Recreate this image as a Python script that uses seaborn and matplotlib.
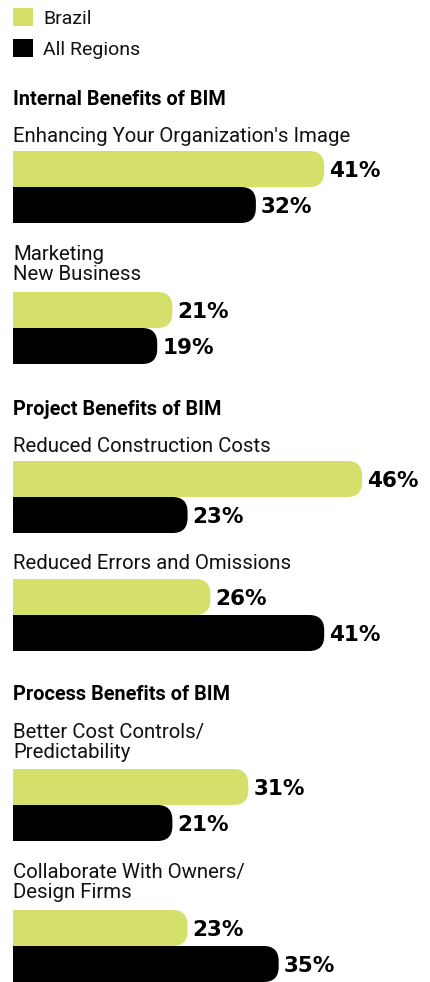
import matplotlib
matplotlib.use("Agg")
import matplotlib.pyplot as plt
import seaborn as sns
import pandas as pd
from matplotlib.patches import FancyBboxPatch, Patch

# Data
sections = ["Internal Benefits of BIM", "Project Benefits of BIM", "Process Benefits of BIM"]
categories = [
    "Enhancing Your Organization's Image",
    "Marketing\nNew Business",
    "Reduced Construction Costs",
    "Reduced Errors and Omissions",
    "Better Cost Controls/\nPredictability",
    "Collaborate With Owners/\nDesign Firms",
]
regions = ["Brazil", "All Regions"]
brazil = [41, 21, 46, 26, 31, 23]
all_regions = [32, 19, 23, 41, 21, 35]

colors = {"Brazil": "#d4e06a", "All Regions": "#000000"}

df = pd.DataFrame({
    "category": categories * 2,
    "region": ["Brazil"] * len(categories) + ["All Regions"] * len(categories),
    "value": brazil + all_regions,
})

sns.set_style("white")
plt.rcParams["font.family"] = ["Roboto", "DejaVu Sans"]

# figure is laid out in pixels
W, H = 431, 982
fig = plt.figure(figsize=(W / 100, H / 100), dpi=100)

left = 13
px_per_pct = 7.59
bar_h = 36
radius = 15
group_top = [151, 292, 461, 579, 769, 910]
label_base = [142, 280, 452, 569, 758, 898]   # baseline of the last line
header_base = [105, 415, 700]

label_size = 14.7
value_font = dict(family="DejaVu Sans", fontweight="bold", fontsize=15.5, color="#000000")

for i, cat in enumerate(categories):
    ax = fig.add_axes([left / W, 1 - (group_top[i] + 2 * bar_h) / H,
                       (W - left) / W, 2 * bar_h / H])
    sub = df[df["category"] == cat]
    sns.barplot(data=sub, x="value", y="region", hue="region", order=regions,
                hue_order=regions, palette=colors, width=1.0, orient="h",
                saturation=1, legend=False, ax=ax)

    # swap plain bars for bars with a rounded right end
    rx = radius / px_per_pct
    aspect = px_per_pct / bar_h
    for p in list(ax.patches):
        x0, y0, w, h = p.get_x(), p.get_y(), p.get_width(), p.get_height()
        fc = p.get_facecolor()
        p.remove()
        ax.add_patch(FancyBboxPatch((x0 - 5, y0), w + 5, h,
                                    boxstyle=f"round,pad=0,rounding_size={rx}",
                                    mutation_aspect=aspect, facecolor=fc,
                                    edgecolor="none"))
        ax.annotate(f"{int(round(x0 + w))}%", xy=(x0 + w, y0 + h / 2),
                    xytext=(5 * 0.72, -2 * 0.72), textcoords="offset points",
                    ha="left", va="center", **value_font)

    ax.set_xlim(0, (W - left) / px_per_pct)
    ax.set_ylim(1.5, -0.5)
    ax.axis("off")

    fig.text(left / W, 1 - label_base[i] / H, cat, ha="left", va="baseline",
             fontsize=label_size, color="#111111", linespacing=1.05)

for j, s in enumerate(sections):
    fig.text(left / W, 1 - header_base[j] / H, s, ha="left", va="baseline",
             fontsize=14.3, fontweight="bold", color="#000000")

handles = [Patch(facecolor=colors[r], edgecolor="none") for r in regions]
fig.legend(handles, regions, loc="upper left", bbox_to_anchor=(left / W, 1 - 8 / H),
           frameon=False, borderpad=0, borderaxespad=0, handlelength=1.05,
           handleheight=1.05, handletextpad=0.5, labelspacing=0.6, fontsize=14,
           labelcolor="#111111")

fig.savefig("out.png", dpi=100)
